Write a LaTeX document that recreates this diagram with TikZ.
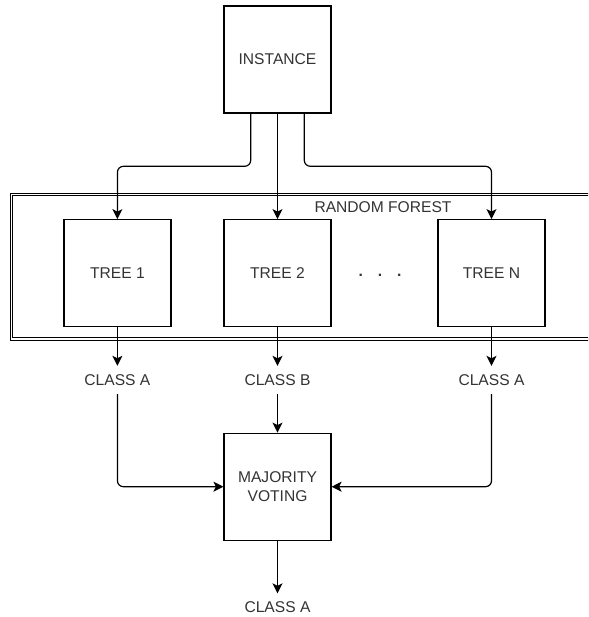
\documentclass[tikz,border=0pt]{standalone}
\usepackage{fontspec}
\setmainfont{Liberation Sans}
\usetikzlibrary{arrows.meta}
\definecolor{ink}{HTML}{333333}

\tikzset{
  box/.style={draw=black, line width=1.2pt, minimum width=107pt, minimum height=107pt, inner sep=0pt, align=center},
  lbl/.style={minimum height=28pt, inner sep=0pt},
  arr/.style={-{Stealth[length=10pt,width=10pt,inset=2.5pt]}, line width=1.2pt, rounded corners=6pt},
}

\begin{document}
\begin{tikzpicture}[x=1pt,y=-1pt,font=\fontsize{15.6}{18.7}\selectfont,text=ink]
 \useasboundingbox (0,0) rectangle (588,617);
 \clip (0,0) rectangle (588,617);

 \draw[double, line width=1pt, double distance=1.4pt] (11.2,194.5) rectangle (600,338.8);
 \node (forest) at (383,207.3) {RANDOM FOREST};

 \node[box] (inst) at (277.5,59.5) {INSTANCE};
 \node[box] (tree1) at (117.4,273.2) {TREE 1};
 \node[box] (tree2) at (277.5,273.2) {TREE 2};
 \node[box] (treen) at (491.5,273.2) {TREE N};
 \node[font=\fontsize{15.6}{18.7}\selectfont\bfseries, anchor=base] (dots) at (380,276.5) {.\hspace{15pt}.\hspace{15pt}.};

 \node[lbl] (cls1) at (117.4,380) {CLASS A};
 \node[lbl] (cls2) at (277.5,380) {CLASS B};
 \node[lbl] (clsn) at (491.5,380) {CLASS A};
 \node[box] (vote) at (277.5,486.7) {MAJORITY\\VOTING};
 \node[lbl] (result) at (277.5,607.5) {CLASS A};

 \draw[arr] ([xshift=-26.8pt]inst.south) -- ++(0,52.7) -| (tree1.north);
 \draw[arr] (inst) -- (tree2);
 \draw[arr] ([xshift=26.8pt]inst.south) -- ++(0,52.7) -| (treen.north);

 \draw[arr] (tree1) -- (cls1);
 \draw[arr] (tree2) -- (cls2);
 \draw[arr] (treen) -- (clsn);

 \draw[arr] (cls1) |- (vote);
 \draw[arr] (cls2) -- (vote);
 \draw[arr] (clsn) |- (vote);
 \draw[arr] (vote) -- (result);
\end{tikzpicture}
\end{document}
